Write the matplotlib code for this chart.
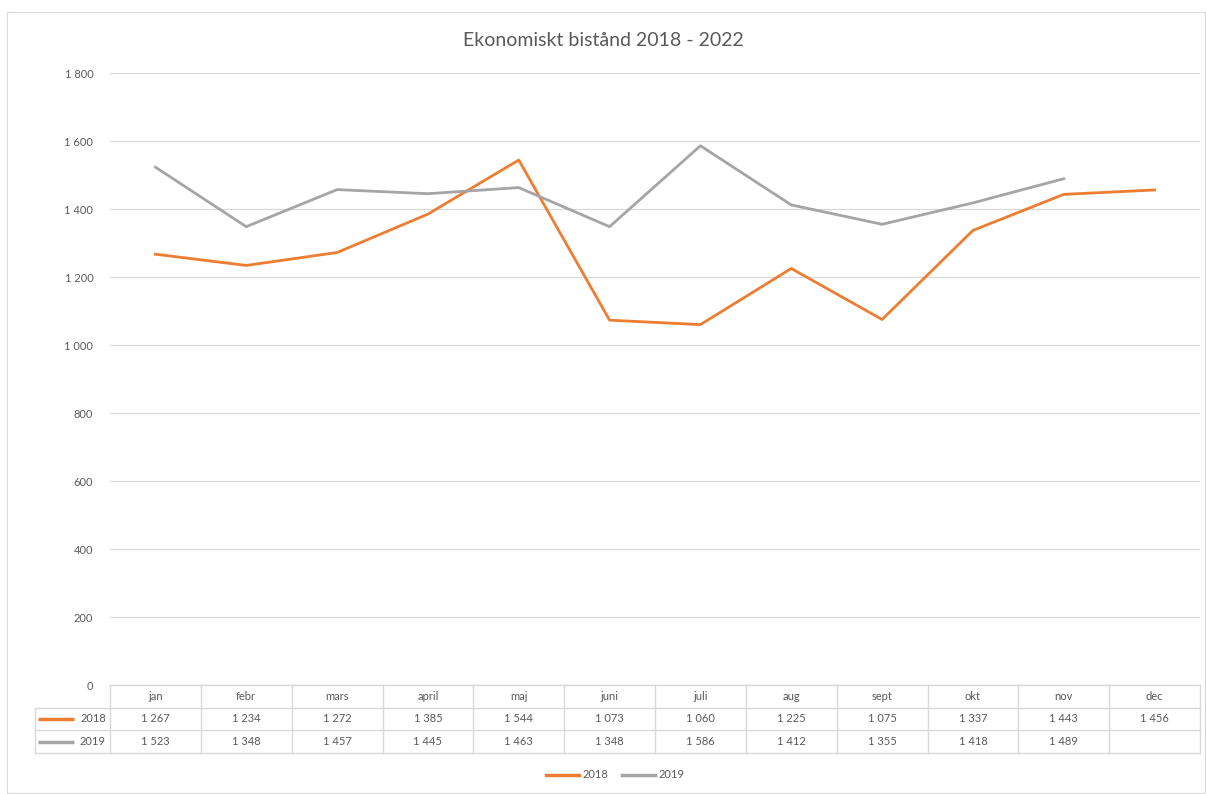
import numpy as np
import matplotlib
matplotlib.use('Agg')
import matplotlib.pyplot as plt
from matplotlib.patches import Rectangle
from matplotlib.lines import Line2D

plt.rcParams['font.family'] = ['Lato', 'DejaVu Sans']

# -------------------------------------------------------------------------
# data
# -------------------------------------------------------------------------
MONTHS = ['jan', 'febr', 'mars', 'april', 'maj', 'juni', 'juli', 'aug',
          'sept', 'okt', 'nov', 'dec']
Y2018 = [1267, 1234, 1272, 1385, 1544, 1073, 1060, 1225, 1075, 1337, 1443, 1456]
Y2019 = [1523, 1348, 1457, 1445, 1463, 1348, 1586, 1412, 1355, 1418, 1489, None]
SERIES = ['2018', '2019']
YTICKS = [0, 200, 400, 600, 800, 1000, 1200, 1400, 1600, 1800]

ORANGE = '#ED7D31'
GRAY = '#A5A5A5'
GRID = '#D9D9D9'
TXT = '#595959'

W, H = 1206, 794


def fmt(v):
    return '' if v is None else f'{v:,}'.replace(',', ' ')


def fx(px):
    return px / W


def fy(py):
    return 1 - py / H


fig = plt.figure(figsize=(W / 100, H / 100), dpi=100)

# chart border
fig.patches.append(Rectangle((fx(7), fy(793)), fx(1198), 781 / H, transform=fig.transFigure,
                             fill=False, edgecolor=GRID, lw=0.8))

x0, x1 = 110, 1200
ytop, ybot = 73, 685
ax = fig.add_axes([fx(x0), fy(ybot), fx(x1 - x0), (ybot - ytop) / H])
x = np.arange(len(MONTHS)) + 0.5

ax.plot(x, Y2018, color=ORANGE, lw=2.0, label=SERIES[0], solid_joinstyle='round')
v19 = [np.nan if v is None else v for v in Y2019]
ax.plot(x, v19, color=GRAY, lw=2.0, label=SERIES[1], solid_joinstyle='round')

ax.set_xlim(0, 12)
ax.set_ylim(0, 1800)
ax.set_yticks(YTICKS)
ax.set_yticklabels([fmt(v) for v in YTICKS], fontsize=8, color=TXT)
ax.set_xticks([])
ax.tick_params(axis='y', length=0, pad=12)
ax.grid(axis='y', color=GRID, lw=0.9)
ax.set_axisbelow(True)
for s in ax.spines.values():
    s.set_visible(False)

fig.text(0.5, fy(40), 'Ekonomiskt bistånd 2018 - 2022', ha='center', va='center',
         fontsize=14, color=TXT)

# -------------------------------------------------------------------------
# data table under the chart
# -------------------------------------------------------------------------
rows = [685, 708, 731, 753]
tax = fig.add_axes([fx(x0), fy(rows[-1]), fx(x1 - x0), (rows[-1] - rows[0]) / H])
tax.set_xlim(0, 12)
tax.set_ylim(3, 0)
tax.axis('off')
upx = (x1 - x0) / 12  # pixels per column
left = -(x0 - 35) / upx

kw = dict(color=GRID, lw=1.0, clip_on=False)
tax.plot([0, 12], [0, 0], **kw)
for r in (1, 2, 3):
    tax.plot([left, 12], [r, r], **kw)
for c in range(13):
    tax.plot([c, c], [0, 3], **kw)
tax.plot([left, left], [1, 3], **kw)

for i, m in enumerate(MONTHS):
    tax.text(i + 0.5, 0.5, m, ha='center', va='center', fontsize=8, color=TXT)
    tax.text(i + 0.5, 1.5, fmt(Y2018[i]), ha='center', va='center', fontsize=8, color=TXT)
    tax.text(i + 0.5, 2.5, fmt(Y2019[i]), ha='center', va='center', fontsize=8, color=TXT)

for r, (name, col) in enumerate(zip(SERIES, [ORANGE, GRAY])):
    tax.plot([-(x0 - 38) / upx, -(x0 - 74) / upx], [r + 1.5, r + 1.5], color=col, lw=2.5,
             clip_on=False, solid_capstyle='butt')
    tax.text(-4 / upx, r + 1.5, name, ha='right', va='center', fontsize=8, color=TXT)

# legend
handles = [Line2D([], [], color=ORANGE, lw=2.5), Line2D([], [], color=GRAY, lw=2.5)]
fig.legend(handles, SERIES, loc='center', bbox_to_anchor=(fx(615), fy(775)), ncol=2,
           frameon=False, fontsize=8, handlelength=3, columnspacing=1.2,
           handletextpad=0.3, labelcolor=TXT)

plt.savefig('out.png', dpi=100)
